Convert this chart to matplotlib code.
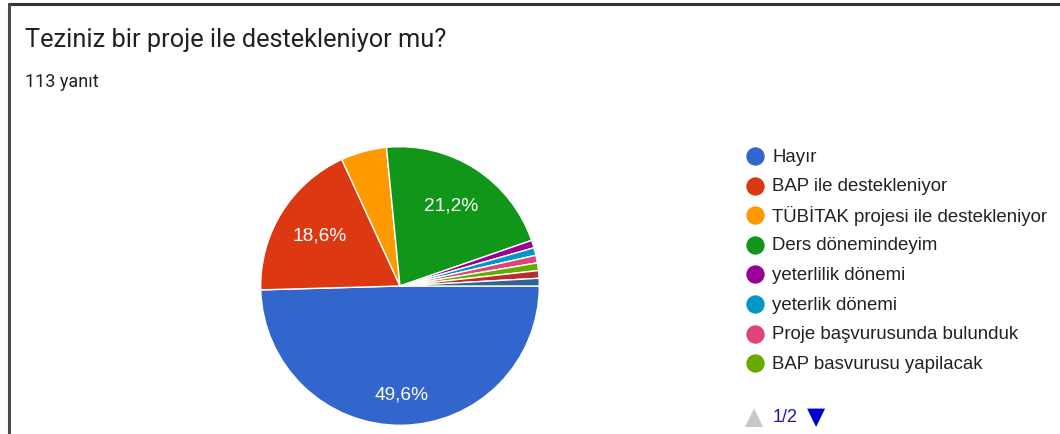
import matplotlib.pyplot as plt

# responses (113 total)
labels = [
    'Hayır',
    'BAP ile destekleniyor',
    'TÜBİTAK projesi ile destekleniyor',
    'Ders dönemindeyim',
    'yeterlilik dönemi',
    'yeterlik dönemi',
    'Proje başvurusunda bulunduk',
    'BAP basvurusu yapilacak',
    'diğer 1',
    'diğer 2',
]
counts = [56, 21, 6, 24, 1, 1, 1, 1, 1, 1]
colors = ['#3366cc', '#dc3912', '#ff9900', '#109618', '#990099',
          '#0099c6', '#dd4477', '#66aa00', '#b82e2e', '#316395']
legend_shown = 8

W, H = 1060, 434
fig = plt.figure(figsize=(W / 100, H / 100), dpi=100)

# page frame
frame = fig.add_axes([0, 0, 1, 1])
frame.set_xlim(0, W)
frame.set_ylim(H, 0)
frame.axis('off')
frame.plot([8, W], [3.5, 3.5], color='#333333', lw=2.2, solid_capstyle='butt')
frame.plot([8.5, 8.5], [3, H], color='#4a4a4a', lw=2.2, solid_capstyle='butt')

fig.text(25 / W, 1 - 40 / H, 'Teziniz bir proje ile destekleniyor mu?',
         fontsize=18.3, family='Roboto', color='#202124', va='center')
fig.text(25 / W, 1 - 82 / H, '113 yanıt', fontsize=13, family='Roboto',
         color='#202124', va='center')

# pie
cx, cy, r = 400, 286, 140
ax = fig.add_axes([(cx - r) / W, 1 - (cy + r) / H, 2 * r / W, 2 * r / H])


def pct(p):
    return f'{p:.1f}%'.replace('.', ',') if p > 10 else ''


wedges, _, autotexts = ax.pie(
    counts, colors=colors, startangle=0, counterclock=False,
    autopct=pct, pctdistance=0.68,
    wedgeprops=dict(edgecolor='white', linewidth=1),
    textprops=dict(color='white', fontsize=13.8, family='Liberation Sans'),
)
x, y = autotexts[0].get_position()
autotexts[0].set_position((x * 1.15, y * 1.15))
ax.set_xlim(-1.005, 1.005)
ax.set_ylim(-1.005, 1.005)
ax.set_aspect('equal')

# legend (first page)
lx, ly0, step = 755, 156, 29.6
for i in range(legend_shown):
    yy = ly0 + i * step
    frame.scatter([lx], [yy], s=175, color=colors[i], linewidths=0, zorder=3)
    frame.text(772, yy + 1, labels[i], fontsize=13.4, family='Liberation Sans',
               color='#222222', va='center', ha='left')

frame.text(754, 417, '▲', fontsize=17, color='#c8c8c8', ha='center', va='center',
           family='DejaVu Sans')
frame.text(773, 417, '1/2', fontsize=13, color='#1a1aa6', ha='left', va='center',
           family='Liberation Sans')
frame.text(816, 417, '▼', fontsize=17, color='#0000cc', ha='center', va='center',
           family='DejaVu Sans')

fig.savefig('out.png', dpi=100, facecolor='white')
